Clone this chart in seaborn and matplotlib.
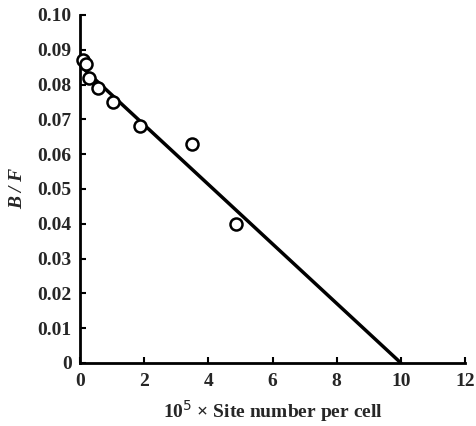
import matplotlib
matplotlib.use("Agg")
import matplotlib.pyplot as plt
import seaborn as sns
import pandas as pd

sns.set_theme(style="ticks")
plt.rcParams['font.family'] = ['Liberation Serif', 'DejaVu Serif']

site_number = [0.1, 0.2, 0.28, 0.56, 1.03, 1.87, 3.5, 4.87]
bf_ratio = [0.087, 0.086, 0.082, 0.079, 0.075, 0.068, 0.063, 0.040]
fit_x = [0.0, 10.0]
fit_y = [0.0855, 0.0]
x_ticks = [0, 2, 4, 6, 8, 10, 12]
y_ticks = [0, 0.01, 0.02, 0.03, 0.04, 0.05, 0.06, 0.07, 0.08, 0.09, 0.10]
y_labels = ["0", "0.01", "0.02", "0.03", "0.04", "0.05", "0.06", "0.07", "0.08", "0.09", "0.10"]

df = pd.DataFrame({"x": site_number, "y": bf_ratio})
fit = pd.DataFrame({"x": fit_x, "y": fit_y})

fig = plt.figure(figsize=(4.76, 4.26), dpi=100)
ax = fig.add_axes([0.168, 0.148, 0.809, 0.817])

sns.lineplot(data=fit, x="x", y="y", ax=ax, color="black", linewidth=2.5)
sns.scatterplot(data=df, x="x", y="y", ax=ax, marker="o", s=75,
                facecolor="white", edgecolor="black", linewidth=1.8, zorder=5,
                clip_on=False)

ax.set_xlim(0, 12)
ax.set_ylim(0, 0.10)
ax.set_xticks(x_ticks)
ax.set_xticklabels([str(t) for t in x_ticks])
ax.set_yticks(y_ticks)
ax.set_yticklabels(y_labels)
ax.tick_params(direction="in", length=4, width=1.5, labelsize=14, color="black")
ax.tick_params(axis="y", pad=6)
ax.tick_params(axis="x", pad=7)
for lab in ax.get_xticklabels() + ax.get_yticklabels():
    lab.set_fontweight("bold")
for s in ["top", "right"]:
    ax.spines[s].set_visible(False)
for s in ["left", "bottom"]:
    ax.spines[s].set_linewidth(2)
    ax.spines[s].set_color("black")

ax.set_xlabel("10$^{5}$ × Site number per cell", fontsize=14, fontweight="bold", labelpad=6)
ax.set_ylabel("B / F", fontsize=14, fontweight="bold", fontstyle="italic", labelpad=8)

fig.savefig("out.png", dpi=100)
